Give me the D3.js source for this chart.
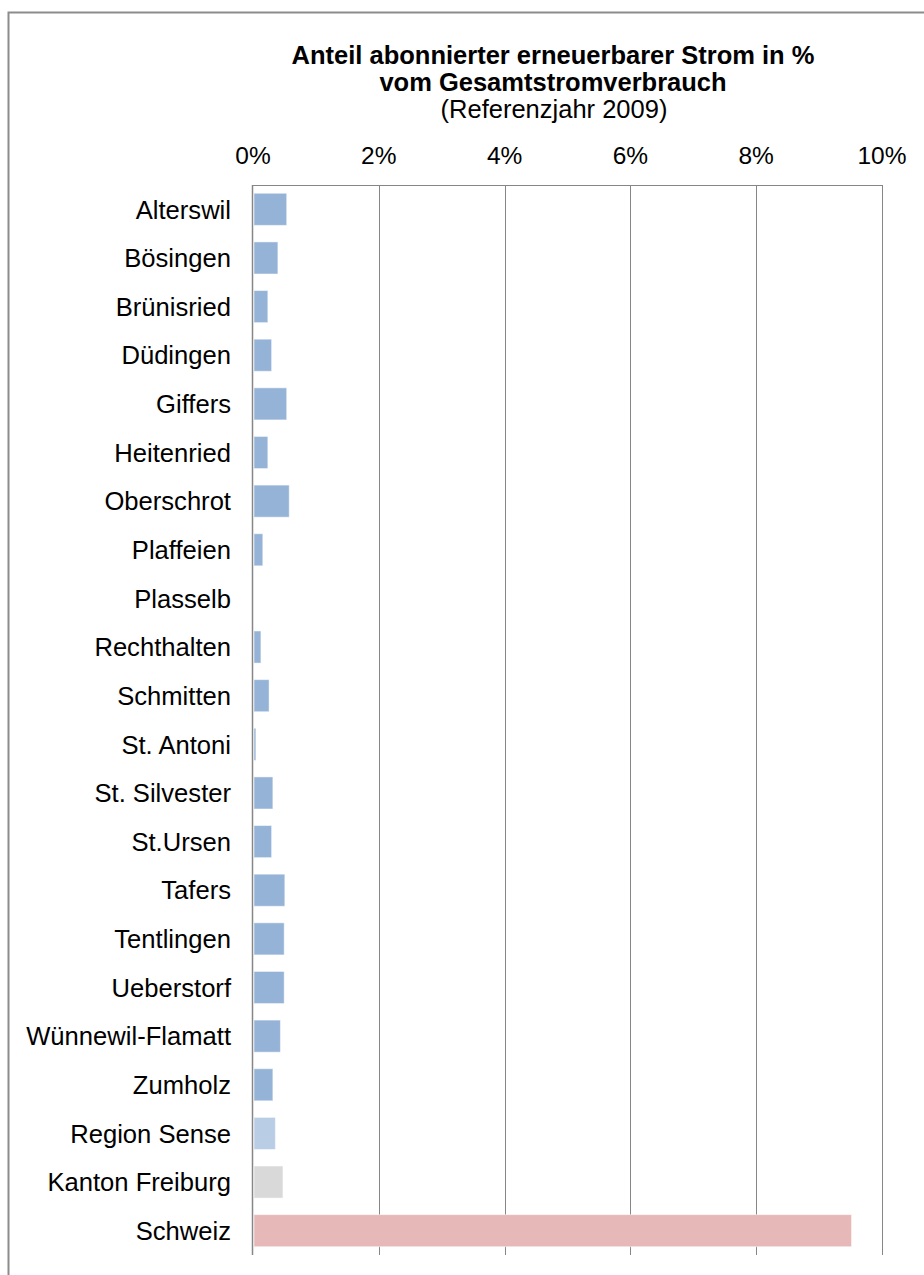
<!DOCTYPE html>
<html>
<head>
<meta charset="utf-8">
<script src="https://cdn.jsdelivr.net/npm/d3@7"></script>
<style>
  body { margin: 0; background: #fff; }
  svg text { font-family: "Liberation Sans", Arial, sans-serif; fill: #000; }
</style>
</head>
<body>
<div id="chart"></div>
<script>
var categories = ["Alterswil", "Bösingen", "Brünisried", "Düdingen", "Giffers", "Heitenried",
  "Oberschrot", "Plaffeien", "Plasselb", "Rechthalten", "Schmitten", "St. Antoni",
  "St. Silvester", "St.Ursen", "Tafers", "Tentlingen", "Ueberstorf", "Wünnewil-Flamatt",
  "Zumholz", "Region Sense", "Kanton Freiburg", "Schweiz"];

// share in percent
var values = [0.52, 0.38, 0.22, 0.28, 0.52, 0.22,
  0.56, 0.14, 0, 0.11, 0.24, 0.03,
  0.30, 0.28, 0.49, 0.48, 0.48, 0.42,
  0.30, 0.34, 0.46, 9.5];

var ticks = [0, 2, 4, 6, 8, 10];

var titleLines = ["Anteil abonnierter erneuerbarer Strom in %", "vom Gesamtstromverbrauch", "(Referenzjahr 2009)"];

var width = 924, height = 1275;
var margin = {left: 253, right: 42, top: 185, bottom: 20};

var defaultColor = "#95B3D7";
var specialColors = {"Region Sense": "#B9CDE5", "Kanton Freiburg": "#D9D9D9", "Schweiz": "#E6B9B8"};

var svg = d3.select("#chart").append("svg")
  .attr("width", width)
  .attr("height", height);

// outer chart frame (runs off the right and bottom edges)
svg.append("rect")
  .attr("x", 8.5)
  .attr("y", 12.5)
  .attr("width", 940)
  .attr("height", 1300)
  .attr("fill", "none")
  .attr("stroke", "#8c8c8c")
  .attr("stroke-width", 2);

var x = d3.scaleLinear()
  .domain([0, 10])
  .range([margin.left, width - margin.right]);

var y = d3.scaleBand()
  .domain(categories)
  .range([margin.top, height - margin.bottom])
  .paddingInner(0.34)
  .paddingOuter(0.17);

// gridlines
svg.append("g")
  .selectAll("line")
  .data(ticks.slice(1))
  .enter()
  .append("line")
  .attr("x1", function(d) { return Math.round(x(d)) + 0.5; })
  .attr("x2", function(d) { return Math.round(x(d)) + 0.5; })
  .attr("y1", margin.top)
  .attr("y2", height - margin.bottom)
  .attr("stroke", "#868686")
  .attr("stroke-width", 1);

// top axis line
svg.append("line")
  .attr("x1", x(0))
  .attr("x2", x(10))
  .attr("y1", margin.top + 0.5)
  .attr("y2", margin.top + 0.5)
  .attr("stroke", "#868686");

// bars
svg.append("g")
  .selectAll("rect")
  .data(categories)
  .enter()
  .append("rect")
  .attr("x", x(0) + 1)
  .attr("y", function(d) { return y(d); })
  .attr("width", function(d, i) { return Math.max(0, x(values[i]) - x(0)); })
  .attr("height", y.bandwidth())
  .attr("fill", function(d) { return specialColors[d] || defaultColor; })
  .attr("stroke", "#ffffff")
  .attr("stroke-opacity", 0.5)
  .attr("stroke-width", 1);

// left axis line
svg.append("line")
  .attr("x1", Math.round(x(0)) - 0.5)
  .attr("x2", Math.round(x(0)) - 0.5)
  .attr("y1", margin.top)
  .attr("y2", height - margin.bottom)
  .attr("stroke", "#868686")
  .attr("stroke-width", 1.5);

// category labels
svg.append("g")
  .selectAll("text")
  .data(categories)
  .enter()
  .append("text")
  .attr("x", 231)
  .attr("y", function(d) { return y(d) + y.bandwidth() / 2; })
  .attr("dy", "0.36em")
  .attr("text-anchor", "end")
  .style("font-size", "25.6px")
  .text(function(d) { return d; });

// tick labels
svg.append("g")
  .selectAll("text")
  .data(ticks)
  .enter()
  .append("text")
  .attr("x", function(d) { return x(d); })
  .attr("y", 164)
  .attr("text-anchor", "middle")
  .style("font-size", "24.5px")
  .text(function(d) { return d + "%"; });

// title
var titleX = 553;
svg.append("text")
  .attr("x", titleX)
  .attr("y", 64)
  .attr("text-anchor", "middle")
  .style("font-size", "25.5px")
  .style("font-weight", "bold")
  .text(titleLines[0]);

svg.append("text")
  .attr("x", titleX)
  .attr("y", 91)
  .attr("text-anchor", "middle")
  .style("font-size", "25.5px")
  .style("font-weight", "bold")
  .text(titleLines[1]);

svg.append("text")
  .attr("x", titleX + 1)
  .attr("y", 118)
  .attr("text-anchor", "middle")
  .style("font-size", "25.5px")
  .text(titleLines[2]);
</script>
</body>
</html>
